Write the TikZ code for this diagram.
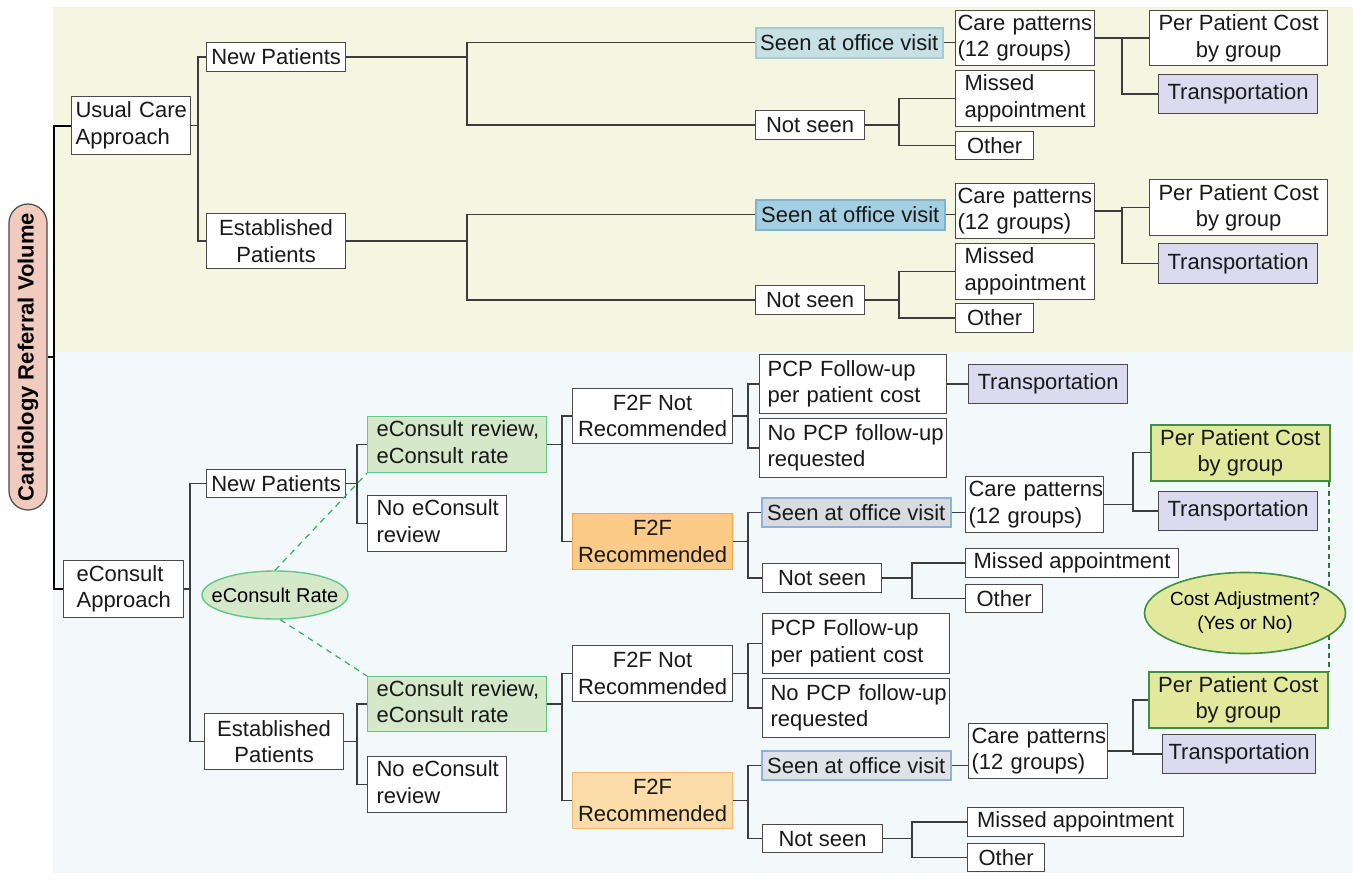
\documentclass[tikz,border=0pt]{standalone}
\usepackage{fontspec}
\setmainfont{Liberation Sans}
\usetikzlibrary{shapes.geometric}

\definecolor{topbg}{HTML}{F5F6E1}
\definecolor{botbg}{HTML}{F3F8FB}
\definecolor{boxline}{HTML}{4A4A4A}
\definecolor{connline}{HTML}{3C3C3C}
\definecolor{labelfill}{HTML}{F0CBBE}
\definecolor{seenA}{HTML}{C6E0E5}
\definecolor{seenAline}{HTML}{A6CBD5}
\definecolor{seenB}{HTML}{A4CFE3}
\definecolor{seenBline}{HTML}{7DB4D0}
\definecolor{seenC}{HTML}{D8DBDF}
\definecolor{seenD}{HTML}{DFE2E6}
\definecolor{seenCline}{HTML}{8CB3DF}
\definecolor{transfill}{HTML}{DCDAEE}
\definecolor{ecfill}{HTML}{D5E8CA}
\definecolor{ecline}{HTML}{5EC987}
\definecolor{f2fA}{HTML}{FDCB88}
\definecolor{f2fAline}{HTML}{F5A54A}
\definecolor{f2fB}{HTML}{FCDCA9}
\definecolor{f2fBline}{HTML}{F6B872}
\definecolor{costfill}{HTML}{E2E99D}
\definecolor{costline}{HTML}{3F8F45}
\definecolor{costdash}{HTML}{2B7A36}
\definecolor{ratedash}{HTML}{33B066}

\newcommand\fs{\fontsize{22}{26.5}\selectfont}

\tikzset{
  box/.style={draw=boxline, line width=1.2pt, fill=white, inner sep=0pt,
    anchor=north west, font=\fs, text=black!90},
  conn/.style={draw=connline, line width=1.4pt},
  trunk/.style={draw=black, line width=2pt},
  seen1/.style={fill=seenA, draw=seenAline, line width=1.6pt},
  seen2/.style={fill=seenB, draw=seenBline, line width=1.6pt},
  seen3/.style={fill=seenC, draw=seenCline, line width=1.6pt},
  seen4/.style={fill=seenD, draw=seenCline, line width=1.6pt},
  trans/.style={fill=transfill},
  ecr/.style={fill=ecfill, draw=ecline},
  f2f1/.style={fill=f2fA, draw=f2fAline},
  f2f2/.style={fill=f2fB, draw=f2fBline},
  cost/.style={fill=costfill, draw=costline, line width=1.6pt},
  ratelink/.style={draw=ratedash, line width=1.2pt, dash pattern=on 6pt off 5pt},
  costlink/.style={draw=costdash, line width=2pt, dash pattern=on 5pt off 4pt},
}

% centred box: name, x1, y1, x2, y2, style, text
\newcommand\mybox[7]{%
  \pgfmathsetmacro\bw{#4-#2}\pgfmathsetmacro\bh{#5-#3}%
  \node[box,#6,align=center,minimum width=\bw pt,minimum height=\bh pt] (#1) at (#2,#3) {#7};}
% left-aligned box: name, x1, y1, x2, y2, style, padding, text
\newcommand\myboxl[8]{%
  \pgfmathsetmacro\bw{#4-#2-2*#7}\pgfmathsetmacro\bh{#5-#3}%
  \node[box,#6,align=left,inner xsep=#7pt,text width=\bw pt,minimum height=\bh pt] (#1) at (#2,#3)
    {\begin{tabular}{@{}l@{}}#8\end{tabular}};}
% elbow connector from a parent to a child through a vertical at x of #2
\newcommand\fork[3]{\draw[conn] (#1.east) -| (#2 |- #3.west) -- (#3.west);}

\begin{document}
\begin{tikzpicture}[x=1pt,y=-1pt]
\useasboundingbox (0,0) rectangle (1353,882);
\fill[white] (0,0) rectangle (1353,882);

% background panels
\fill[topbg] (53,7) rectangle (1353,352);
\fill[botbg] (53,352) rectangle (1353,873);

% root label
\node[draw=boxline, line width=1.2pt, fill=labelfill, rounded corners=19pt,
  minimum width=38pt, minimum height=306pt, inner sep=0pt] (label) at (28,357)
  {\rotatebox{90}{\fontsize{22}{26}\selectfont\bfseries Cardiology Referral Volume}};

% usual care branch
\myboxl{usual}{71}{96}{190}{154}{}{4}{Usual Care\\Approach}
\mybox{newA}{206}{42}{345}{71}{}{New Patients}
\mybox{estA}{206}{213}{345}{268}{}{Established\\Patients}

\mybox{seenA1}{755}{27}{942}{57}{seen1}{Seen at office visit}
\mybox{notA1}{755}{110}{864}{139}{}{Not seen}
\myboxl{careA1}{955}{10}{1094}{65}{}{2}{Care patterns\\(12 groups)}
\mybox{costA1}{1149}{10}{1327}{65}{}{Per Patient Cost\\by group}
\mybox{trA1}{1158}{74}{1317}{113}{trans}{Transportation}
\myboxl{misA1}{955}{70}{1094}{126}{}{9}{Missed\\appointment}
\mybox{othA1}{955}{131}{1033}{159}{}{Other}

\mybox{seenA2}{755}{199}{944}{229}{seen2}{Seen at office visit}
\mybox{notA2}{755}{285}{864}{314}{}{Not seen}
\myboxl{careA2}{955}{183}{1094}{238}{}{2}{Care patterns\\(12 groups)}
\mybox{costA2}{1149}{179}{1327}{235}{}{Per Patient Cost\\by group}
\mybox{trA2}{1158}{243}{1317}{283}{trans}{Transportation}
\myboxl{misA2}{955}{243}{1094}{299}{}{9}{Missed\\appointment}
\mybox{othA2}{955}{303}{1033}{332}{}{Other}

% eConsult branch
\myboxl{econ}{63}{560}{183}{617}{}{13}{eConsult\\Approach}
\mybox{newB}{206}{469}{345}{497}{}{New Patients}
\mybox{estB}{204}{713}{343}{769}{}{Established\\Patients}

\myboxl{ecrB1}{367}{416}{546}{472}{ecr}{9}{eConsult review,\\eConsult rate}
\myboxl{noB1}{367}{495}{506}{551}{}{9}{No eConsult\\review}
\mybox{f2fnB1}{572}{388}{732}{443}{}{F2F Not\\Recommended}
\mybox{f2fB1}{572}{513}{732}{569}{f2f1}{F2F\\Recommended}
\myboxl{pcpB1}{759}{354}{946}{413}{}{8}{PCP Follow-up\\per patient cost}
\myboxl{nopcpB1}{759}{418}{946}{477}{}{8}{No PCP follow-up\\requested}
\mybox{trB1}{968}{364}{1127}{403}{trans}{Transportation}
\mybox{seenB1}{761}{497}{950}{526}{seen3}{Seen at office visit}
\myboxl{careB1}{965}{476}{1103}{532}{}{3}{Care patterns\\(12 groups)}
\mybox{costB1}{1150}{424}{1329}{480}{cost}{Per Patient Cost\\by group}
\mybox{trB1b}{1158}{491}{1317}{530}{trans}{Transportation}
\mybox{notB1}{762}{563}{881}{592}{}{Not seen}
\mybox{misB1}{965}{548}{1178}{577}{}{Missed appointment}
\mybox{othB1}{965}{584}{1042}{612}{}{Other}

\myboxl{ecrB2}{367}{676}{546}{731}{ecr}{9}{eConsult review,\\eConsult rate}
\myboxl{noB2}{367}{756}{506}{812}{}{9}{No eConsult\\review}
\mybox{f2fnB2}{572}{645}{732}{701}{}{F2F Not\\Recommended}
\mybox{f2fB2}{572}{772}{732}{828}{f2f2}{F2F\\Recommended}
\myboxl{pcpB2}{762}{613}{949}{673}{}{8}{PCP Follow-up\\per patient cost}
\myboxl{nopcpB2}{762}{678}{949}{737}{}{8}{No PCP follow-up\\requested}
\mybox{seenB2}{761}{750}{950}{779}{seen4}{Seen at office visit}
\myboxl{careB2}{968}{723}{1107}{778}{}{3}{Care patterns\\(12 groups)}
\mybox{costB2}{1148}{671}{1327}{727}{cost}{Per Patient Cost\\by group}
\mybox{trB2}{1162}{734}{1315}{773}{trans}{Transportation}
\mybox{notB2}{762}{824}{882}{852}{}{Not seen}
\mybox{misB2}{967}{807}{1183}{836}{}{Missed appointment}
\mybox{othB2}{967}{843}{1044}{871}{}{Other}

% x positions of the vertical bars
\coordinate (xt) at (54,0);
\coordinate (xa) at (198,0);
\coordinate (xb) at (467,0);
\coordinate (xc) at (1122,0);
\coordinate (xd) at (899,0);
\coordinate (xe) at (190,0);
\coordinate (xf) at (357,0);
\coordinate (xg) at (562,0);
\coordinate (xh) at (748,0);
\coordinate (xi) at (1133,0);
\coordinate (xj) at (912,0);

% trunk
\draw[trunk] (usual.west) -| (xt |- econ.west) -- (econ.west);
\draw[trunk] (label.east) -- (xt |- label.east);

% usual care connectors
\fork{usual}{xa}{newA}
\fork{usual}{xa}{estA}
\fork{newA}{xb}{seenA1}
\fork{newA}{xb}{notA1}
\fork{estA}{xb}{seenA2}
\fork{estA}{xb}{notA2}
\draw[conn] (seenA1.east) -- (careA1.west |- seenA1.east);
\draw[conn] (seenA2.east) -- (careA2.west |- seenA2.east);
\fork{careA1}{xc}{costA1}
\fork{careA1}{xc}{trA1}
\fork{careA2}{xc}{costA2}
\fork{careA2}{xc}{trA2}
\fork{notA1}{xd}{misA1}
\fork{notA1}{xd}{othA1}
\fork{notA2}{xd}{misA2}
\fork{notA2}{xd}{othA2}

% eConsult connectors
\fork{econ}{xe}{newB}
\fork{econ}{xe}{estB}
\fork{newB}{xf}{ecrB1}
\fork{newB}{xf}{noB1}
\fork{estB}{xf}{ecrB2}
\fork{estB}{xf}{noB2}
\fork{ecrB1}{xg}{f2fnB1}
\fork{ecrB1}{xg}{f2fB1}
\fork{ecrB2}{xg}{f2fnB2}
\fork{ecrB2}{xg}{f2fB2}
\fork{f2fnB1}{xh}{pcpB1}
\fork{f2fnB1}{xh}{nopcpB1}
\fork{f2fnB2}{xh}{pcpB2}
\fork{f2fnB2}{xh}{nopcpB2}
\fork{f2fB1}{xh}{seenB1}
\fork{f2fB1}{xh}{notB1}
\fork{f2fB2}{xh}{seenB2}
\fork{f2fB2}{xh}{notB2}
\draw[conn] (pcpB1.east) -- (trB1.west |- pcpB1.east);
\draw[conn] (seenB1.east) -- (careB1.west |- seenB1.east);
\draw[conn] (seenB2.east) -- (careB2.west |- seenB2.east);
\fork{careB1}{xi}{costB1}
\fork{careB1}{xi}{trB1b}
\fork{careB2}{xi}{costB2}
\fork{careB2}{xi}{trB2}
\fork{notB1}{xj}{misB1}
\fork{notB1}{xj}{othB1}
\fork{notB2}{xj}{misB2}
\fork{notB2}{xj}{othB2}

% eConsult rate annotation
\node[ellipse, draw=ecline, fill=ecfill, line width=1.4pt, inner sep=0pt,
  minimum width=146pt, minimum height=48pt, font=\fontsize{20}{24}\selectfont]
  (ecRate) at (275,595) {\makebox[0pt]{eConsult Rate}};
\draw[ratelink] (ecRate.north) -- (ecrB1.south west);
\draw[ratelink] (ecRate.-78) -- (ecrB2.north west);

% cost adjustment annotation
\draw[costlink] (costB2.north east |- costB1.south) -- (costB2.north east);
\node[ellipse, draw=costline, fill=costfill, line width=1.6pt, inner sep=0pt,
  minimum width=201pt, minimum height=81pt, font=\fontsize{19}{24}\selectfont]
  (costAdj) at (1245,613)
  {\makebox[0pt]{\begin{tabular}{@{}c@{}}Cost Adjustment?\\(Yes or No)\end{tabular}}};
\end{tikzpicture}
\end{document}
